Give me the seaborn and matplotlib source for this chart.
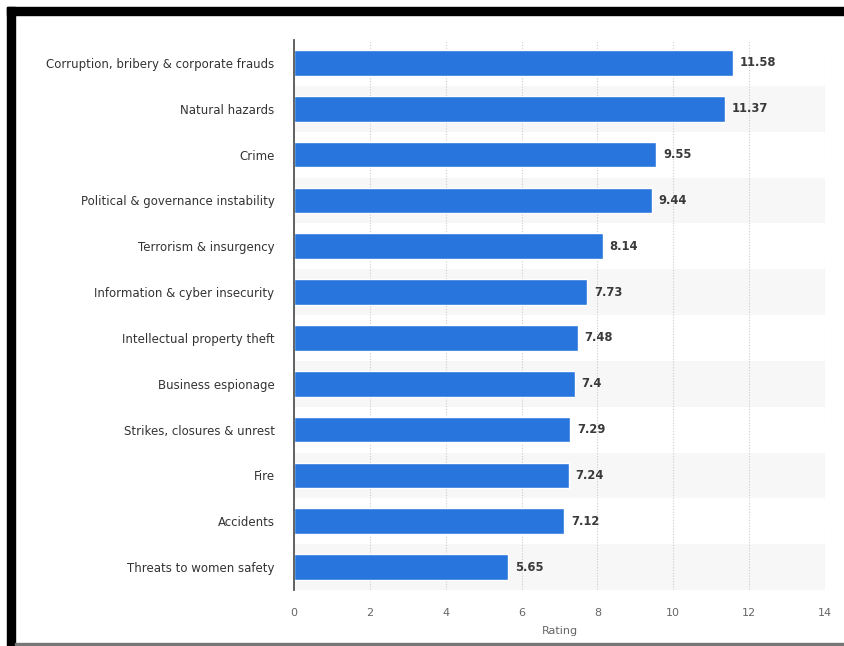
import matplotlib
matplotlib.use('Agg')
import matplotlib.pyplot as plt
import pandas as pd
import seaborn as sns
from matplotlib.patches import Rectangle

risks = [
    'Corruption, bribery & corporate frauds',
    'Natural hazards',
    'Crime',
    'Political & governance instability',
    'Terrorism & insurgency',
    'Information & cyber insecurity',
    'Intellectual property theft',
    'Business espionage',
    'Strikes, closures & unrest',
    'Fire',
    'Accidents',
    'Threats to women safety',
]
ratings = [11.58, 11.37, 9.55, 9.44, 8.14, 7.73, 7.48, 7.4, 7.29, 7.24, 7.12, 5.65]
value_labels = ['11.58', '11.37', '9.55', '9.44', '8.14', '7.73', '7.48', '7.4', '7.29', '7.24', '7.12', '5.65']
x_ticks = [0, 2, 4, 6, 8, 10, 12, 14]

df = pd.DataFrame({'Risk': risks, 'Rating': ratings})

sns.set_style('white')
plt.rcParams['font.family'] = ['DejaVu Sans']

fig = plt.figure(figsize=(8.44, 6.46), dpi=100)
W, H = 844, 646

# screenshot frame
fig.patches.append(Rectangle((7 / W, 1 - 15 / H), 1 - 7 / W, 8 / H, transform=fig.transFigure,
                             color='black', zorder=0))
fig.patches.append(Rectangle((7 / W, 0), 8 / W, 1 - 7 / H, transform=fig.transFigure,
                             color='black', zorder=0))
fig.patches.append(Rectangle((15 / W, 1 / H), 1 - 15 / W, 2 / H, transform=fig.transFigure,
                             color='#777777', zorder=0))

ax = fig.add_axes([294 / W, 1 - 590 / H, (825 - 294) / W, (590 - 40) / H])

for i in range(len(risks)):
    if i % 2 == 1:
        ax.axhspan(i - 0.5, i + 0.5, color='#f7f7f7', zorder=0, lw=0)

sns.barplot(data=df, x='Rating', y='Risk', color='#2876dd', saturation=1,
            width=0.56, ax=ax, zorder=2)

for i, (v, lab) in enumerate(zip(ratings, value_labels)):
    ax.text(v + 0.18, i, lab, va='center', ha='left', fontsize=8.3,
            fontweight='semibold', color='#3a3a3a')

ax.set_xlim(0, 14)
ax.set_ylim(len(risks) - 0.5, -0.5)
ax.set_xticks(x_ticks)
for t in x_ticks[1:]:
    ax.axvline(t, color='#cccccc', lw=0.8, ls=(0, (1, 1.5)), zorder=1)

ax.set_xlabel('Rating', fontsize=8, color='#666666', labelpad=6)
ax.set_ylabel('')
ax.tick_params(axis='x', length=0, labelsize=8, labelcolor='#666666', pad=13)
ax.tick_params(axis='y', length=0, labelsize=8.5, labelcolor='#333333', pad=14)

for s in ['top', 'right', 'bottom']:
    ax.spines[s].set_visible(False)
ax.spines['left'].set_color('#555555')
ax.spines['left'].set_linewidth(1.3)
ax.set_facecolor('none')

fig.savefig('out.png', dpi=100)
